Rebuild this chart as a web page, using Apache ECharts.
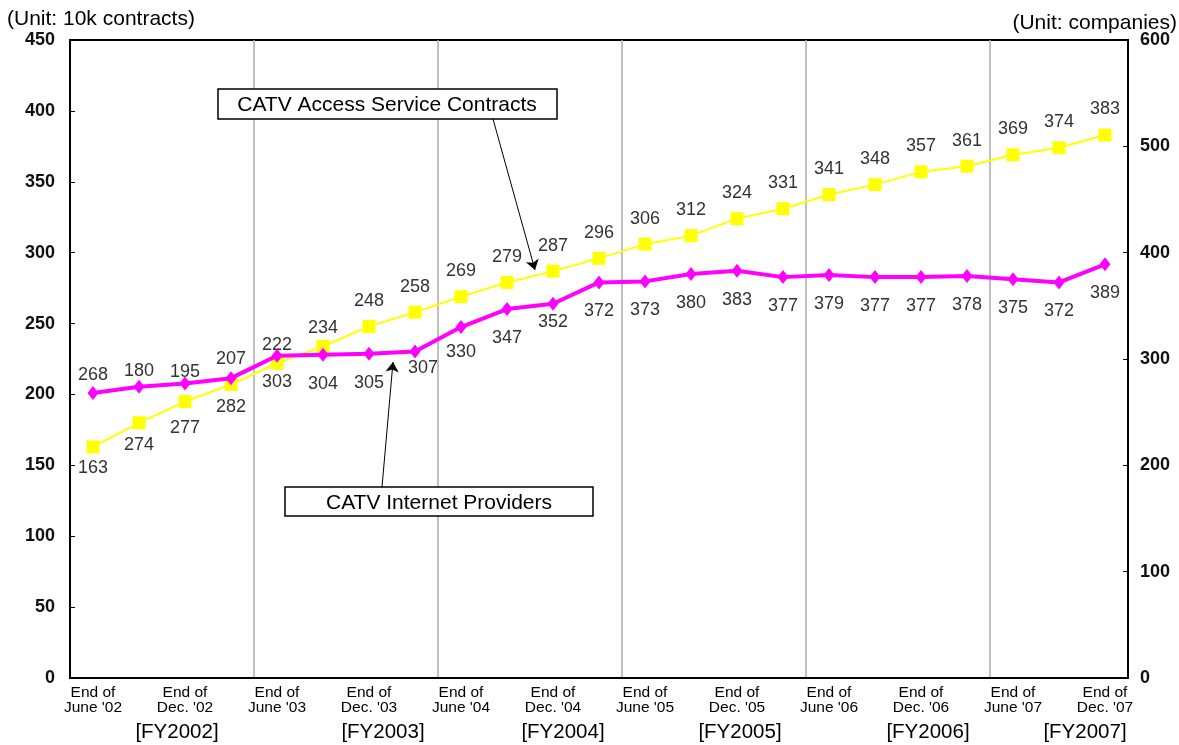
<!DOCTYPE html>
<html lang="en">

<head>
    <meta charset="UTF-8">
    <title>CATV Access Service Contracts / CATV Internet Providers</title>
    <script src="https://cdn.jsdelivr.net/npm/echarts@6/dist/echarts.min.js"></script>
    <style>
        html,
        body {
            height: 100%;
            width: 100%;
            margin: 0px;
            background-color: #fff;
        }

        #chart {
            width: 1179px;
            height: 745px;
        }
    </style>
</head>

<body>
    <div id="chart"></div>
    <script>
        // quarter ends, June '02 .. Dec. '07 (only every other one is labelled)
        var periods = [
            "End of\nJune '02", "End of\nSep. '02", "End of\nDec. '02", "End of\nMar. '03",
            "End of\nJune '03", "End of\nSep. '03", "End of\nDec. '03", "End of\nMar. '04",
            "End of\nJune '04", "End of\nSep. '04", "End of\nDec. '04", "End of\nMar. '05",
            "End of\nJune '05", "End of\nSep. '05", "End of\nDec. '05", "End of\nMar. '06",
            "End of\nJune '06", "End of\nSep. '06", "End of\nDec. '06", "End of\nMar. '07",
            "End of\nJune '07", "End of\nSep. '07", "End of\nDec. '07"
        ];
        // 10k contracts (left axis)
        var contracts = [163, 180, 195, 207, 222, 234, 248, 258, 269, 279, 287, 296,
            306, 312, 324, 331, 341, 348, 357, 361, 369, 374, 383];
        // companies (right axis)
        var providers = [268, 274, 277, 282, 303, 304, 305, 307, 330, 347, 352, 372,
            373, 380, 383, 377, 379, 377, 377, 378, 375, 372, 389];
        var fiscalYears = ['[FY2002]', '[FY2003]', '[FY2004]', '[FY2005]', '[FY2006]', '[FY2007]'];
        var fiscalYearAt = [2, 6, 10, 14, 18, 22];
        var leftTicks = { min: 0, max: 450, step: 50 };
        var rightTicks = { min: 0, max: 600, step: 100 };

        var font = 'Arial, "Liberation Sans", sans-serif';

        // where the original moves a value label away from the default spot
        var contractLabelFix = {
            0: { position: 'bottom', distance: 6 },
            1: { distance: 36 },
            2: { distance: 14 },
            4: { distance: 3 },
            5: { distance: 3 }
        };
        var providerLabelFix = {
            0: { position: 'top', distance: 2 },
            1: { distance: 42 },
            2: { distance: 29 },
            4: { distance: 10 },
            7: { distance: 0, offset: [8, 0] },
            8: { distance: 9 },
            10: { distance: 2 }
        };
        // small sideways nudges of the fiscal year captions (px)
        var fyNudge = [-8, 14, 10, 3, 7, -20];

        function withLabels(values, fix) {
            return values.map(function (v, i) {
                return fix[i] ? { value: v, label: fix[i] } : v;
            });
        }

        var fyCategories = periods.map(function (p, i) {
            var k = fiscalYearAt.indexOf(i);
            return k >= 0 ? fiscalYears[k] : '';
        });

        var fyRich = {};
        fyNudge.forEach(function (s, k) {
            fyRich['f' + k] = {
                fontFamily: font, fontSize: 20.5, color: '#000',
                padding: s > 0 ? [0, 0, 0, 2 * s] : [0, -2 * s, 0, 0]
            };
        });

        var chart = echarts.init(document.getElementById('chart'));
        chart.setOption({
            animation: false,
            title: [
                { text: '(Unit: 10k contracts)', left: 2, top: 4, textStyle: { fontFamily: font, fontSize: 21, fontWeight: 'normal', color: '#000' } },
                { text: '(Unit: companies)', right: -3, top: 8, textStyle: { fontFamily: font, fontSize: 21, fontWeight: 'normal', color: '#000' } }
            ],
            grid: {
                left: 70, right: 51, top: 40, bottom: 67,
                show: true, borderColor: '#000', borderWidth: 2,
                outerBoundsMode: 'none'
            },
            xAxis: [{
                type: 'category',
                data: periods,
                boundaryGap: true,
                axisLine: { lineStyle: { color: '#000', width: 2 } },
                axisTick: { show: false },
                axisLabel: {
                    interval: 1, margin: 7, color: '#000',
                    fontFamily: font, fontSize: 15.5, lineHeight: 15
                },
                splitLine: {
                    show: true,
                    interval: function (i) { return i > 0 && i % 4 === 0; },
                    lineStyle: { color: '#aaa', width: 1.5 }
                }
            }, {
                type: 'category',
                data: fyCategories,
                position: 'bottom',
                boundaryGap: true,
                axisLine: { show: false },
                axisTick: { show: false },
                axisLabel: {
                    interval: 0, margin: 44, color: '#000',
                    fontFamily: font, fontSize: 20.5,
                    formatter: function (v) {
                        var k = fiscalYears.indexOf(v);
                        return k >= 0 ? '{f' + k + '|' + v + '}' : '';
                    },
                    rich: fyRich
                }
            }],
            yAxis: [{
                type: 'value',
                min: leftTicks.min, max: leftTicks.max, interval: leftTicks.step,
                axisLine: { show: true, lineStyle: { color: '#000', width: 2 } },
                axisTick: { show: true, inside: true, length: 5, lineStyle: { color: '#000' } },
                splitLine: { show: false },
                axisLabel: { margin: 15, color: '#111', fontFamily: font, fontSize: 18, fontWeight: 'bold' }
            }, {
                type: 'value',
                position: 'right',
                min: rightTicks.min, max: rightTicks.max, interval: rightTicks.step,
                axisLine: { show: true, lineStyle: { color: '#000', width: 2 } },
                axisTick: { show: true, inside: true, length: 5, lineStyle: { color: '#000' } },
                splitLine: { show: false },
                axisLabel: { margin: 12, color: '#111', fontFamily: font, fontSize: 18, fontWeight: 'bold' }
            }],
            series: [{
                name: 'CATV Access Service Contracts',
                type: 'line',
                yAxisIndex: 0,
                data: withLabels(contracts, contractLabelFix),
                symbol: 'rect',
                symbolSize: 13,
                z: 2,
                itemStyle: { color: '#ffff00' },
                lineStyle: { color: '#ffff00', width: 2 },
                label: {
                    show: true, position: 'top', distance: 10,
                    color: '#333', fontFamily: font, fontSize: 18
                },
                markLine: {
                    silent: true,
                    symbol: ['none', 'arrow'],
                    symbolSize: 10,
                    label: { show: false },
                    lineStyle: { color: '#000', width: 1, type: 'solid' },
                    data: [
                        [{ x: 493, y: 119 }, { x: 535, y: 270 }],
                        [{ x: 382, y: 487 }, { x: 393, y: 362 }]
                    ]
                }
            }, {
                name: 'CATV Internet Providers',
                type: 'line',
                yAxisIndex: 1,
                data: withLabels(providers, providerLabelFix),
                symbol: 'diamond',
                symbolSize: [11, 14],
                z: 3,
                itemStyle: { color: '#ff00ff' },
                lineStyle: { color: '#ff00ff', width: 4 },
                label: {
                    show: true, position: 'bottom', distance: 13,
                    color: '#333', fontFamily: font, fontSize: 18
                }
            }],
            graphic: [{
                type: 'group',
                z: 100,
                children: [{
                    type: 'rect',
                    z: 100,
                    shape: { x: 218, y: 89, width: 339, height: 30 },
                    style: { fill: '#fff', stroke: '#000', lineWidth: 1.5 }
                }, {
                    type: 'text',
                    z: 101,
                    x: 387, y: 105,
                    style: { text: 'CATV Access Service Contracts', font: '21px ' + font, fill: '#000', align: 'center', verticalAlign: 'middle' }
                }, {
                    type: 'rect',
                    z: 100,
                    shape: { x: 285, y: 487, width: 308, height: 29 },
                    style: { fill: '#fff', stroke: '#000', lineWidth: 1.5 }
                }, {
                    type: 'text',
                    z: 101,
                    x: 439, y: 503,
                    style: { text: 'CATV Internet Providers', font: '21px ' + font, fill: '#000', align: 'center', verticalAlign: 'middle' }
                }]
            }]
        });
    </script>
</body>

</html>
